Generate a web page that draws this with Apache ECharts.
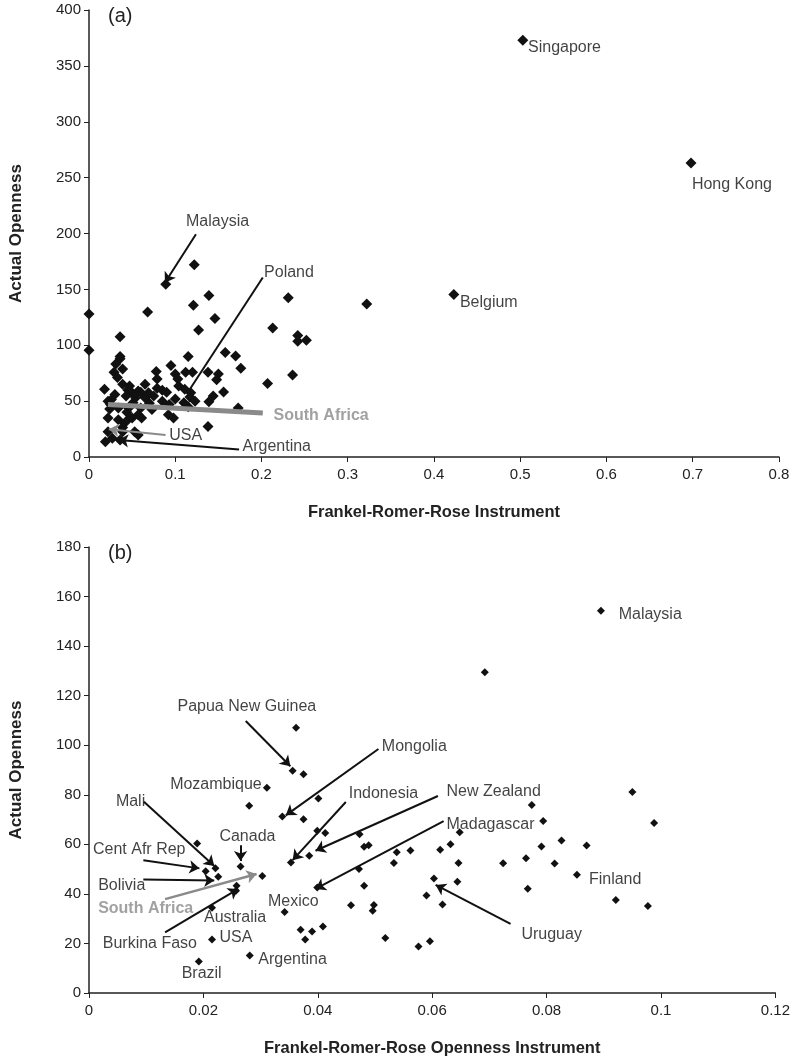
<!DOCTYPE html>
<html>
<head>
<meta charset="utf-8">
<script src="https://cdn.jsdelivr.net/npm/echarts@6/dist/echarts.min.js"></script>
<style>
  html, body { margin: 0; padding: 0; background: #fff; }
  #chart { width: 793px; height: 1058px; }
</style>
</head>
<body>
<div id="chart"></div>
<script>
// ---- panel (a): Frankel-Romer-Rose instrument vs actual openness ----
const aTicksX = [0, 0.1, 0.2, 0.3, 0.4, 0.5, 0.6, 0.7, 0.8]
const aTicksY = [0, 50, 100, 150, 200, 250, 300, 350, 400]
const aPoints = [
  [0.503, 373], [0.698, 263], [0.423, 145.5], [0.322, 137], [0.089, 154.5], [0.122, 172],
  [0.231, 142.4], [0.139, 144.5], [0.121, 135.8], [0.068, 129.7], [0, 128], [0.146, 124],
  [0.127, 113.6], [0.213, 115.5], [0.242, 108.8], [0.242, 103.6], [0.252, 104.5], [0.036, 107.6],
  [0, 95.5], [0.158, 93.6], [0.170, 90.3], [0.176, 79.4], [0.115, 90], [0.095, 81.8],
  [0.236, 73.3], [0.207, 65.8], [0.138, 75.8], [0.150, 74.2], [0.148, 69.1], [0.156, 58.2],
  [0.144, 54.5], [0.139, 49.4], [0.138, 27.3], [0.173, 43.9], [0.120, 75.8], [0.112, 75.8],
  [0.100, 74.2], [0.103, 69.7], [0.078, 76.4], [0.079, 69.7], [0.036, 90], [0.036, 87.9],
  [0.039, 78.8], [0.031, 83.3], [0.029, 75.8], [0.033, 71.2], [0.018, 60.6], [0.039, 65.2],
  [0.047, 63.6], [0.065, 65.2], [0.057, 59.1], [0.050, 57.6], [0.069, 57.6], [0.085, 59.7],
  [0.079, 61.5], [0.104, 63.6], [0.111, 60.6], [0.118, 57.6], [0.117, 53.6], [0.123, 50],
  [0.110, 48.5], [0.043, 54.5], [0.054, 53], [0.065, 53], [0.075, 54.5], [0.085, 50],
  [0.093, 47], [0.022, 50], [0.026, 51.5], [0.025, 47], [0.024, 43], [0.034, 43.9],
  [0.046, 43.9], [0.051, 48.5], [0.060, 43.9], [0.073, 42.4], [0.047, 34.8], [0.050, 34.8],
  [0.057, 37.9], [0.061, 34.8], [0.092, 37.9], [0.098, 34.8], [0.022, 34.8], [0.034, 33.3],
  [0.041, 30.3], [0.039, 26.4], [0.039, 22.7], [0.022, 22.7], [0.053, 22.7], [0.057, 19.7],
  [0.027, 16.7], [0.036, 15.2], [0.019, 13.6], [0.060, 58], [0.045, 60], [0.090, 58],
  [0.100, 52], [0.115, 45], [0.030, 56], [0.044, 40], [0.070, 48]
]
// text labels [name, x, y]
const aLabelsLeft = [
  ['Singapore', 0.509, 366], ['Hong Kong', 0.699, 244], ['Poland', 0.203, 165],
  ['Belgium', 0.430, 138], ['USA', 0.093, 18.8], ['Argentina', 0.178, 9]
]
const aLabelsCenter = [['Malaysia', 0.149, 210.6]]
const aLabelsGray = [['South Africa', 0.214, 37]]
// pointers [[x1, y1], [x2, y2]], head at the second point
const aArrowsBlack = [
  [[0.124, 199.4], [0.088, 156]],
  [[0.174, 6.7], [0.034, 15.2]]
]
const aLinesBlack = [[[0.2015, 160.6], [0.1156, 59.1]]]
const aArrowsGray = [[[0.0888, 19.7], [0.023, 24.8]]]
const aLinesGrayThick = [[[0.2015, 39.4], [0.022, 47]]]

// ---- panel (b): Frankel-Romer-Rose openness instrument, zoomed ----
const bTicksX = [0, 0.02, 0.04, 0.06, 0.08, 0.1, 0.12]
const bTicksY = [0, 20, 40, 60, 80, 100, 120, 140, 160, 180]
const bPoints = [
  [0.0895, 154.3], [0.0692, 129.5], [0.0362, 107.1], [0.0356, 89.7], [0.0375, 88.3],
  [0.0311, 82.8], [0.0280, 75.6], [0.0401, 78.5], [0.0338, 71.2], [0.0375, 70.1],
  [0.0399, 65.5], [0.0413, 64.6], [0.0189, 60.3], [0.0473, 64.1], [0.0481, 59.0],
  [0.0489, 59.6], [0.0385, 55.4], [0.0353, 52.7], [0.0538, 56.8], [0.0562, 57.5],
  [0.0533, 52.5], [0.0614, 57.8], [0.0632, 60.0], [0.0648, 64.9], [0.0646, 52.5],
  [0.0472, 50.0], [0.0481, 43.3], [0.0399, 42.6], [0.0603, 46.2], [0.0644, 44.9],
  [0.0590, 39.4], [0.0618, 35.7], [0.0458, 35.4], [0.0498, 35.5], [0.0496, 33.2],
  [0.0342, 32.7], [0.0370, 25.5], [0.0390, 24.8], [0.0409, 26.8], [0.0378, 21.6],
  [0.0518, 22.2], [0.0576, 18.8], [0.0596, 20.9], [0.0281, 15.1], [0.0215, 21.6],
  [0.0192, 12.7], [0.0215, 34.4], [0.0258, 43.3], [0.0257, 41.3], [0.0303, 47.2],
  [0.0265, 51.1], [0.0221, 50.3], [0.0204, 49.1], [0.0226, 46.9], [0.0774, 75.9],
  [0.0794, 69.4], [0.0950, 81.1], [0.0988, 68.6], [0.0826, 61.5], [0.0870, 59.5],
  [0.0791, 59.1], [0.0724, 52.4], [0.0764, 54.4], [0.0814, 52.3], [0.0853, 47.7],
  [0.0767, 42.1], [0.0921, 37.5], [0.0977, 35.1]
]
const bLabelsLeft = [
  ['Malaysia', 0.0926, 152.9], ['Mongolia', 0.0512, 99.6], ['Indonesia', 0.0454, 80.4],
  ['New Zealand', 0.0625, 81.2], ['Madagascar', 0.0625, 68.1], ['Mali', 0.0047, 77.2],
  ['Cent Afr Rep', 0.0007, 58.0], ['Bolivia', 0.0016, 43.3], ['Australia', 0.0201, 30.3],
  ['Mexico', 0.0313, 37.0], ['Burkina Faso', 0.0024, 20.1], ['USA', 0.0228, 22.2],
  ['Argentina', 0.0296, 13.5], ['Brazil', 0.0162, 8.0], ['Uruguay', 0.0756, 23.5],
  ['Finland', 0.0874, 45.6]
]
const bLabelsCenter = [['Papua New Guinea', 0.0276, 115.7], ['Canada', 0.0277, 63.0]]
const bLabelsRight = [['Mozambique', 0.0302, 84.2]]
const bLabelsGray = [['South Africa', 0.0016, 33.9]]
const bArrowsBlack = [
  [[0.0274, 109.8], [0.0352, 91.5]],
  [[0.0506, 98.5], [0.0344, 71.7]],
  [[0.0449, 77.1], [0.0356, 53.6]],
  [[0.0610, 79.5], [0.0396, 57.4]],
  [[0.0620, 69.4], [0.0396, 42.0]],
  [[0.0737, 27.9], [0.0606, 43.6]],
  [[0.0096, 77.2], [0.0219, 51.3]],
  [[0.0095, 53.6], [0.0193, 50.3]],
  [[0.0095, 45.8], [0.0219, 45.4]],
  [[0.0265, 59.6], [0.0265, 53.3]],
  [[0.0133, 24.5], [0.0261, 42.0]]
]
const bArrowsGray = [[[0.0133, 37.9], [0.0293, 48.0]]]

const FONT = "'Liberation Sans', Arial, sans-serif"
const INK = '#111'
const GRAY = '#8a8a8a'

const fmt = v => String(+v.toFixed(2))

const makeXAxis = (idx, ticks, name) => ({
  gridIndex: idx,
  type: 'value',
  min: ticks[0],
  max: ticks[ticks.length - 1],
  interval: ticks[1] - ticks[0],
  name,
  nameLocation: 'middle',
  nameGap: 47,
  nameTextStyle: {fontFamily: FONT, fontWeight: 'bold', fontSize: 16.5, color: '#222'},
  axisLine: {lineStyle: {color: '#222', width: 1.5}},
  axisTick: {show: true, length: 5, lineStyle: {color: '#222'}},
  axisLabel: {fontFamily: FONT, fontSize: 15, color: '#222', margin: 10, formatter: fmt},
  splitLine: {show: false},
})

const makeYAxis = (idx, ticks) => ({
  gridIndex: idx,
  type: 'value',
  min: ticks[0],
  max: ticks[ticks.length - 1],
  interval: ticks[1] - ticks[0],
  name: 'Actual Openness',
  nameLocation: 'middle',
  nameGap: 64,
  nameTextStyle: {fontFamily: FONT, fontWeight: 'bold', fontSize: 17, color: '#222'},
  axisLine: {show: true, lineStyle: {color: '#222', width: 1.5}},
  axisTick: {show: true, length: 5, lineStyle: {color: '#222'}},
  axisLabel: {fontFamily: FONT, fontSize: 15, color: '#222', margin: 8},
  splitLine: {show: false},
})

const labelSeries = (idx, rows, align, color, bold) => ({
  type: 'scatter',
  xAxisIndex: idx,
  yAxisIndex: idx,
  symbolSize: 0,
  silent: true,
  z: 5,
  data: rows.map(([name, x, y]) => ({name, value: [x, y]})),
  label: {
    show: true,
    position: 'inside',
    align,
    verticalAlign: 'middle',
    formatter: p => p.name,
    fontFamily: FONT,
    fontSize: 16,
    fontWeight: bold ? 'bold' : 'normal',
    color,
    textBorderWidth: 0,
    textBorderColor: 'transparent',
  },
})

const lineSeries = (idx, rows, color, width, head) => ({
  type: 'lines',
  coordinateSystem: 'cartesian2d',
  xAxisIndex: idx,
  yAxisIndex: idx,
  silent: true,
  z: 4,
  symbol: head ? ['none', 'arrow'] : ['none', 'none'],
  symbolSize: head ? [0, 10] : 0,
  lineStyle: {color, width, opacity: 1, curveness: 0},
  data: rows.map(coords => ({coords})),
})

const pointSeries = (idx, pts, size) => ({
  type: 'scatter',
  xAxisIndex: idx,
  yAxisIndex: idx,
  symbol: 'diamond',
  symbolSize: size,
  itemStyle: {color: INK, opacity: 1},
  z: 3,
  data: pts,
})

const chart = echarts.init(document.getElementById('chart'), null, {renderer: 'canvas'})

chart.setOption({
  animation: false,
  backgroundColor: '#fff',
  grid: [
    {left: 86, top: 10, width: 693, height: 447},
    {left: 86, top: 547, width: 693, height: 447},
  ],
  xAxis: [
    makeXAxis(0, aTicksX, 'Frankel-Romer-Rose Instrument'),
    makeXAxis(1, bTicksX, 'Frankel-Romer-Rose Openness Instrument'),
  ],
  yAxis: [makeYAxis(0, aTicksY), makeYAxis(1, bTicksY)],
  graphic: [
    {type: 'text', left: 108, top: 6, style: {text: '(a)', font: `20px ${FONT}`, fill: '#222'}},
    {type: 'text', left: 108, top: 543, style: {text: '(b)', font: `20px ${FONT}`, fill: '#222'}},
  ],
  series: [
    pointSeries(0, aPoints, 11),
    lineSeries(0, aLinesGrayThick, GRAY, 5, false),
    lineSeries(0, aArrowsBlack, INK, 2, true),
    lineSeries(0, aLinesBlack, INK, 2, false),
    lineSeries(0, aArrowsGray, GRAY, 2, true),
    labelSeries(0, aLabelsLeft, 'left', INK, false),
    labelSeries(0, aLabelsCenter, 'center', INK, false),
    labelSeries(0, aLabelsGray, 'left', GRAY, true),

    pointSeries(1, bPoints, 8),
    lineSeries(1, bArrowsBlack, INK, 2, true),
    lineSeries(1, bArrowsGray, GRAY, 2.5, true),
    labelSeries(1, bLabelsLeft, 'left', INK, false),
    labelSeries(1, bLabelsCenter, 'center', INK, false),
    labelSeries(1, bLabelsRight, 'right', INK, false),
    labelSeries(1, bLabelsGray, 'left', GRAY, true),
  ],
})
</script>
</body>
</html>
